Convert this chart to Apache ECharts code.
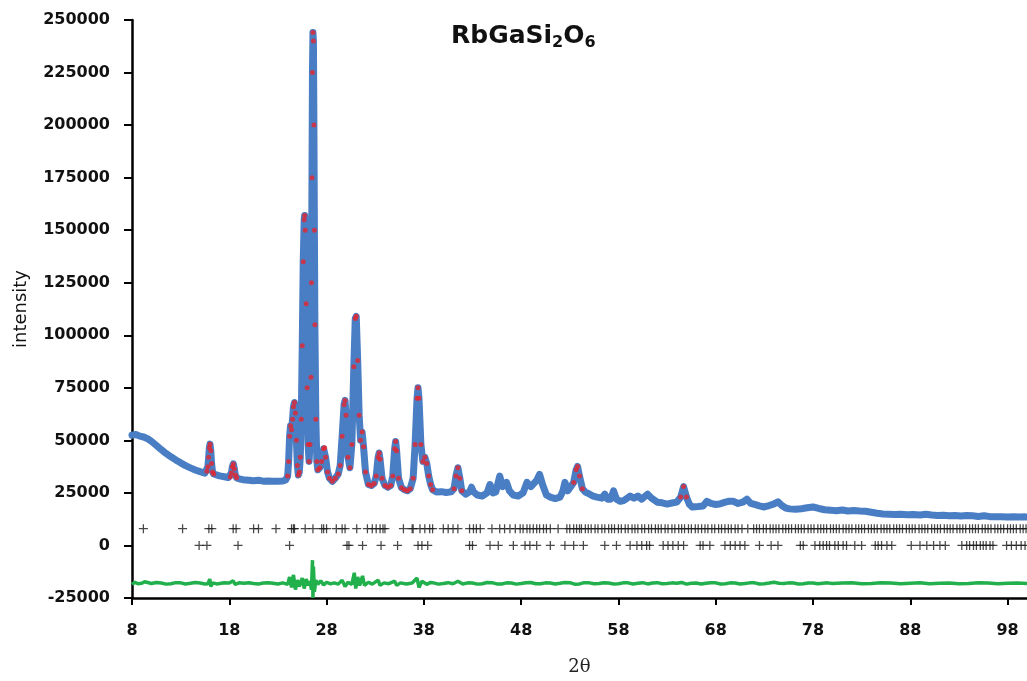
<!DOCTYPE html>
<html>
<head>
<meta charset="utf-8">
<script src="https://cdn.jsdelivr.net/npm/echarts@6/dist/echarts.min.js"></script>
<style>html,body{margin:0;padding:0;background:#fff;}#c{width:1027px;height:681px;}</style>
</head>
<body>
<div id="c"></div>
<script>
// ---- data ----
const xTicks = [8, 18, 28, 38, 48, 58, 68, 78, 88, 98];

const bgA = [[8.0,52500],[8.4,52800],[8.8,52000],[9.2,51600],[9.6,50800],[10.0,49500],[10.5,47600],[11.0,45600],[11.5,43800],[12.0,42200],[12.5,40700],[13.0,39300],[13.5,38000],[14.0,36900],[14.5,35900],[15.0,35100],[15.5,34400]];
const peak16 = [[15.7,35300],[15.8,37500],[15.88,42000],[15.95,46500],[16.02,48200],[16.1,45000],[16.18,39000],[16.28,35000],[16.4,34000]];
const bgB = [[16.6,33500],[17.0,33100],[17.5,32700],[17.9,32300]];
const peak18 = [[18.1,32600],[18.22,34500],[18.32,37500],[18.42,38800],[18.52,36500],[18.62,33500],[18.75,32200]];
const bgC = [[19.0,31700],[19.4,31300],[20.0,31000],[20.5,30800],[21.0,31000],[21.5,30600],[22.0,30700],[22.5,30500],[23.0,30600],[23.5,30700],[23.8,31200]];
const cluster = [[24.0,33000],[24.1,40000],[24.2,52000],[24.3,57000],[24.4,55000],[24.5,60000],[24.6,66000],[24.7,68000],[24.8,63000],[24.9,50000],[25.0,38000],[25.1,33500],[25.2,35000],[25.3,42000],[25.4,60000],[25.5,95000],[25.6,135000],[25.7,155000],[25.75,157000],[25.8,150000],[25.9,115000],[26.0,75000],[26.1,48000],[26.2,40000],[26.3,48000],[26.4,80000],[26.45,125000],[26.5,175000],[26.55,225000],[26.6,244000],[26.65,240000],[26.7,200000],[26.75,150000],[26.8,105000],[26.9,60000],[27.0,40000],[27.1,36000],[27.3,37000],[27.5,40000],[27.7,46000],[27.8,46500],[27.9,42000],[28.1,35000],[28.3,32000],[28.6,30500],[28.9,32000],[29.2,34000],[29.4,38000],[29.6,52000],[29.8,67000],[29.9,69000],[30.0,62000],[30.2,42000],[30.4,37000],[30.6,48000],[30.8,85000],[30.95,108000],[31.05,109000],[31.2,88000],[31.35,62000],[31.5,50000],[31.65,54000],[31.8,47000],[32.0,35000],[32.3,29000],[32.6,28500],[32.9,29500],[33.1,33000],[33.3,42000],[33.4,44000],[33.5,41000],[33.7,32000],[34.0,28500],[34.3,27700],[34.6,28500],[34.8,33000],[35.0,46000],[35.1,49500],[35.2,45000],[35.4,32000],[35.7,27500],[36.0,26500],[36.3,26000],[36.6,27000],[36.9,32000],[37.1,48000],[37.3,70000],[37.4,75000],[37.5,70000],[37.7,48000],[37.9,40000],[38.1,42000],[38.3,39000],[38.5,33000],[38.7,29000],[38.9,26500]];
const peak41 = [[41.1,27000],[41.3,33000],[41.5,37000],[41.7,32000],[41.9,26000]];
const peak54 = [[53.4,30000],[53.65,36000],[53.8,37600],[54.0,33000],[54.3,27000]];
const peak65 = [[64.4,23000],[64.7,28000],[65.0,23000]];
const bgD = [[39.3,25400],[39.8,25600],[40.3,25200],[40.8,25500],[42.3,24400],[42.7,25500],[42.9,27700],[43.1,25500],[43.5,24000],[44.0,23500],[44.5,25000],[44.8,29000],[45.1,25000],[45.4,25500],[45.8,33000],[46.1,28000],[46.5,30000],[46.8,26000],[47.2,24000],[47.7,23500],[48.2,25000],[48.6,30000],[49.0,28000],[49.2,27700],[49.6,31000],[49.9,33800],[50.2,29000],[50.6,24000],[51.0,23000],[51.5,22300],[52.0,23000],[52.3,26000],[52.5,30000],[52.8,26000],[53.0,25400],[54.6,25400],[55.0,24500],[55.4,23500],[55.8,23000],[56.3,22500],[56.6,24400],[56.9,22000],[57.2,22000],[57.5,26000],[57.8,22000],[58.2,21000],[58.6,21500],[59.2,23500],[59.6,22500],[60.0,23500],[60.4,22000],[61.0,24400],[61.4,22500],[62.0,20600],[62.5,20300],[63.0,19700],[63.5,20200],[64.0,20600],[65.3,19500],[65.6,18300],[66.2,18500],[66.7,18800],[67.1,21000],[67.5,20000],[68.0,19500],[68.4,19700],[68.9,20500],[69.3,21000],[69.8,21000],[70.3,20000],[70.8,20600],[71.2,22000],[71.6,20000],[72.0,19500],[72.5,18800],[72.9,18300],[73.5,19000],[74.0,19800],[74.4,20800],[74.8,19000],[75.2,17800],[75.6,17400],[76.2,17200],[76.8,17500],[77.4,17900],[78.0,18300],[78.6,17600],[79.2,17000],[79.8,16800],[80.4,16500],[81.0,16900],[81.6,16400],[82.2,16600],[82.8,16400],[83.4,16300],[84.0,15800],[84.6,15300],[85.2,15000],[85.8,14900],[86.4,14700],[87.0,14800],[87.7,14600],[88.3,14700],[89.0,14500],[89.6,14800],[90.2,14500],[90.8,14300],[91.4,14400],[92.0,14100],[92.6,14200],[93.2,14000],[93.8,14300],[94.4,14100],[95.0,13800],[95.6,14100],[96.2,13700],[96.8,13600],[97.4,13700],[98.0,13500],[98.6,13600],[99.2,13500],[99.8,13600],[100.0,13500]];

const diff = [[8,-18500],[8.3,-17500],[8.6,-18200],[9,-18000],[9.3,-17300],[9.5,-17600],[10,-18100],[10.5,-17600],[11,-17900],[11.5,-18400],[12,-18200],[12.5,-17700],[13,-17800],[13.5,-18300],[14,-18000],[14.5,-17600],[15,-17900],[15.5,-18300],[15.8,-18200],[16.0,-16000],[16.1,-19500],[16.3,-17800],[16.7,-18300],[17,-18100],[17.5,-17700],[18,-17900],[18.4,-16800],[18.6,-18500],[19,-17800],[19.5,-18000],[20,-17700],[20.5,-18100],[21,-18300],[21.5,-17900],[22,-17700],[22.5,-18000],[23,-18300],[23.5,-17800],[24.0,-18500],[24.2,-15000],[24.4,-20000],[24.6,-14000],[24.8,-21000],[25.0,-16500],[25.2,-19500],[25.5,-15500],[25.7,-20500],[25.9,-16000],[26.1,-19000],[26.3,-17000],[26.45,-21000],[26.55,-7000],[26.6,-25000],[26.65,-10000],[26.75,-22000],[26.9,-16500],[27.1,-18500],[27.4,-16800],[27.7,-18800],[28.0,-17500],[28.4,-18300],[28.8,-17800],[29.2,-18400],[29.6,-16500],[29.9,-19500],[30.2,-17500],[30.6,-18500],[30.85,-13000],[31.0,-20500],[31.2,-15000],[31.4,-19000],[31.7,-14500],[31.9,-19000],[32.3,-17500],[32.7,-18400],[33.3,-16500],[33.5,-19000],[33.9,-17800],[34.4,-18200],[35.0,-17000],[35.2,-19000],[35.6,-17800],[36.2,-18300],[36.8,-17900],[37.3,-15500],[37.5,-20000],[37.8,-17000],[38.3,-18500],[38.7,-17600],[39,-17800],[39.5,-18400],[40,-18100],[40.5,-17700],[41,-18200],[41.5,-17000],[42,-18300],[42.5,-17800],[43,-17900],[43.5,-18400],[44,-18200],[44.5,-17600],[45,-17700],[45.5,-18300],[46,-18300],[46.5,-17800],[47,-17900],[47.5,-18400],[48,-18100],[48.5,-17700],[49,-17600],[49.5,-18200],[50,-18200],[50.5,-17800],[51,-17900],[51.5,-18300],[52,-18000],[52.5,-17600],[53,-17700],[53.5,-18400],[54,-18300],[54.5,-17700],[55,-17800],[55.5,-18200],[56,-18100],[56.5,-17700],[57,-17900],[57.5,-18300],[58,-18200],[58.5,-17800],[59,-17800],[59.5,-18300],[60,-18000],[60.5,-17700],[61,-18300],[61.5,-17900],[62,-17700],[62.5,-18200],[63,-18100],[63.5,-17800],[64,-18000],[64.5,-17600],[65,-18400],[65.5,-18000],[66,-17900],[66.5,-18300],[67,-18000],[67.5,-17700],[68,-17800],[68.5,-18300],[69,-18200],[69.5,-17800],[70,-17900],[70.5,-18300],[71,-18100],[71.5,-17800],[72,-17800],[72.5,-18300],[73,-18200],[73.5,-17900],[74,-17500],[74.5,-18000],[75,-18100],[75.5,-17800],[76,-17900],[76.5,-18300],[77,-18200],[77.5,-17900],[78,-17900],[78.5,-18200],[79,-18000],[79.5,-17800],[80,-18100],[81,-17900],[82,-17800],[83,-18200],[84,-18100],[85,-17800],[86,-17900],[87,-18200],[88,-18000],[89,-17800],[90,-18200],[91,-18000],[92,-17900],[93,-18200],[94,-18100],[95,-17800],[96,-17900],[97,-18200],[98,-18000],[99,-17900],[100,-18100]];

const tickRow1 = [9.17,13.2,15.9,16.2,18.4,18.7,20.5,21.0,22.8,24.4,24.6,24.7,25.8,26.6,27.5,27.7,28.0,29.0,29.6,29.9,31.1,32.2,32.7,33.1,33.5,33.8,34.0,35.9,36.8,36.9,37.6,38.1,38.6,38.9,40.0,40.5,41.0,41.5,42.7,43.1,43.4,43.8,45.0,45.8,46.3,46.85,47.4,47.9,48.2,48.6,48.9,49.25,49.6,49.9,50.3,50.6,51.0,51.8,52.7,53.0,53.4,53.7,54.0,54.2,54.6,54.9,55.2,55.6,55.9,56.3,56.6,57.0,57.3,57.6,58.0,58.3,58.7,59.0,59.4,59.7,60.0,60.4,60.7,61.1,61.4,61.8,62.1,62.4,62.8,63.1,63.5,63.8,64.2,64.5,64.8,65.2,65.5,65.9,66.2,66.55,66.9,67.2,67.6,67.9,68.3,68.6,68.95,69.3,69.6,70.0,70.3,70.7,71.3,71.9,72.2,72.5,72.9,73.2,73.6,73.9,74.2,74.5,74.9,75.2,75.5,75.8,76.2,76.5,76.8,77.1,77.5,77.8,78.1,78.5,78.8,79.1,79.4,79.8,80.1,80.4,80.7,81.1,81.4,81.7,82.0,82.4,82.7,83.0,83.3,83.7,84.0,84.3,84.6,85.0,85.3,85.6,85.9,86.3,86.6,86.9,87.2,87.6,87.9,88.2,88.5,88.9,89.2,89.5,89.8,90.2,90.5,90.8,91.1,91.5,91.8,92.1,92.4,92.8,93.1,93.4,93.7,94.1,94.4,94.7,95.0,95.4,95.7,96.0,96.3,96.7,97.0,97.3,97.6,98.0,98.3,98.6,98.9,99.3,99.6,99.9];
const tickRow2 = [14.9,15.7,18.9,24.2,30.1,30.3,31.7,33.6,35.3,37.4,37.8,38.4,42.7,43.0,44.8,45.65,47.2,48.4,48.9,49.6,51.0,52.5,53.4,54.4,56.6,57.8,59.2,59.9,60.4,60.9,61.2,62.6,63.1,63.6,64.15,64.7,66.4,66.7,67.4,68.95,69.5,70.0,70.5,71.0,72.5,73.7,74.4,76.7,77.0,78.2,78.7,79.05,79.4,79.7,80.25,80.6,81.1,81.45,82.3,83.0,84.4,84.7,85.05,85.6,86.1,88.1,89.0,89.7,90.4,91.05,91.6,93.3,93.8,94.1,94.5,94.8,95.2,95.5,95.8,96.2,96.5,97.9,98.4,98.9,99.4,99.8];
const tickRowLevels = [8000, 0];

// ---- build ----
const obs = [].concat(bgA, peak16, bgB, peak18, bgC, cluster, bgD, peak41, peak54, peak65).sort((a, b) => a[0] - b[0]);
const calc = [].concat(peak16, peak18, cluster, peak41, peak54, peak65);
const plusPath = 'path://M0,4.3H10V5.7H0Z M4.3,0H5.7V10H4.3Z';
const labelFont = { fontFamily: 'DejaVu Sans', fontWeight: 'bold', fontSize: 16, color: '#111' };

const chart = echarts.init(document.getElementById('c'), null, { renderer: 'canvas' });
chart.setOption({
  animation: false,
  backgroundColor: '#fff',
  title: {
    text: '{a|RbGaSi}{s|2}{a|O}{s|6}',
    left: 446, top: 16,
    textStyle: {
      rich: {
        a: { fontFamily: 'DejaVu Sans', fontWeight: 'bold', fontSize: 25, lineHeight: 30, color: '#111' },
        s: { fontFamily: 'DejaVu Sans', fontWeight: 'bold', fontSize: 16, lineHeight: 8, verticalAlign: 'bottom', color: '#111' }
      }
    }
  },
  grid: { left: 132, right: 0, top: 20, bottom: 75, containLabel: false },
  xAxis: {
    type: 'value', min: 8, max: 100,
    name: '2θ', nameLocation: 'middle', nameGap: 60,
    nameTextStyle: { fontFamily: 'DejaVu Serif', fontSize: 18, color: '#222' },
    axisLine: { onZero: false, lineStyle: { color: '#000', width: 2.5 } },
    axisTick: { customValues: xTicks, length: 7, lineStyle: { color: '#000', width: 2 } },
    axisLabel: Object.assign({ customValues: xTicks, margin: 25 }, labelFont),
    splitLine: { show: false }
  },
  yAxis: {
    type: 'value', min: -25000, max: 250000, interval: 25000,
    name: 'intensity', nameLocation: 'middle', nameGap: 102, nameRotate: 90,
    nameTextStyle: { fontFamily: 'DejaVu Sans', fontSize: 18, color: '#111' },
    axisLine: { show: true, lineStyle: { color: '#000', width: 2.5 } },
    axisTick: { show: true, length: 8, lineStyle: { color: '#000', width: 2 } },
    axisLabel: Object.assign({ margin: 22, formatter: v => String(v) }, labelFont),
    splitLine: { show: false }
  },
  series: [
    { type: 'line', data: diff, symbol: 'none', lineStyle: { color: '#21b04b', width: 3.5 }, z: 2 },
    { type: 'scatter', data: tickRow1.map(x => [x, tickRowLevels[0]]), symbol: plusPath, symbolSize: 9, itemStyle: { color: '#1a1a1a' }, z: 3 },
    { type: 'scatter', data: tickRow2.map(x => [x, tickRowLevels[1]]), symbol: plusPath, symbolSize: 9, itemStyle: { color: '#1a1a1a' }, z: 3 },
    { type: 'line', data: obs, symbol: 'none', lineStyle: { color: '#4a7ec4', width: 7, join: 'round', cap: 'round' }, z: 4 },
    { type: 'scatter', data: calc, symbol: 'circle', symbolSize: 5, itemStyle: { color: '#e3262f' }, z: 5 }
  ]
});
</script>
</body>
</html>
